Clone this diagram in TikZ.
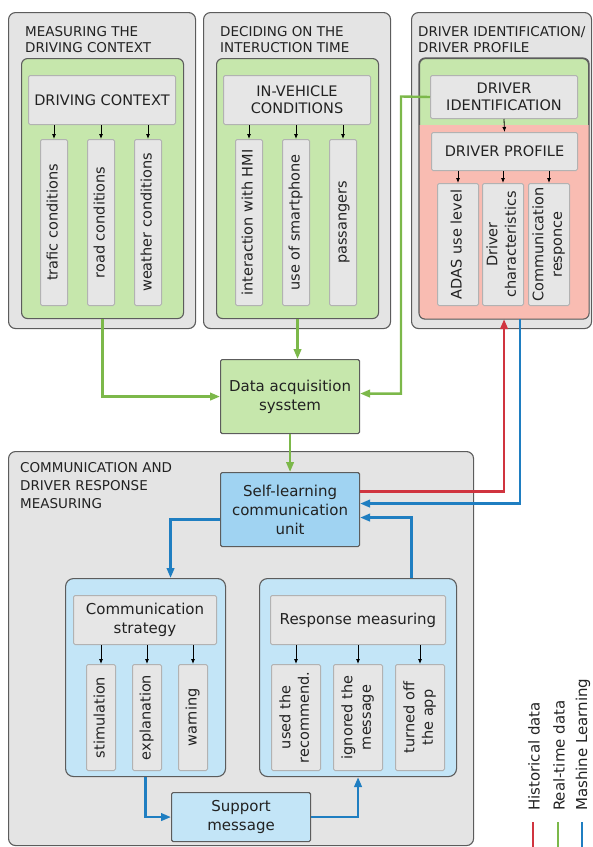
\documentclass[tikz,border=0pt]{standalone}
\usepackage{fontspec}
\setmainfont{DejaVu Sans}
\usepackage{graphicx}
\usetikzlibrary{arrows.meta}

\definecolor{panelgray}{HTML}{E4E4E4}
\definecolor{panelline}{HTML}{5C5C5C}
\definecolor{cellgray}{HTML}{E6E6E6}
\definecolor{cellline}{HTML}{B2B2B2}
\definecolor{zonegreen}{HTML}{C6E7AC}
\definecolor{zonepink}{HTML}{F9BCB2}
\definecolor{zoneblue}{HTML}{C3E5F7}
\definecolor{unitblue}{HTML}{A0D3F2}
\definecolor{rtgreen}{HTML}{7CB84A}
\definecolor{histred}{HTML}{D0343F}
\definecolor{mlblue}{HTML}{1F7EC1}
\definecolor{inkgray}{HTML}{222222}

\newcommand{\bodyfont}{\fontsize{15}{19}\selectfont}
\newcommand{\headfont}{\fontsize{14.5}{17}\selectfont}
\newcommand{\vfont}{\fontsize{14.5}{18.5}\selectfont}
\newcommand{\titlefont}{\fontsize{13.5}{16}\selectfont}
\newcommand{\vlabel}[1]{\rotatebox{90}{\vfont\begin{tabular}{@{}c@{}}#1\end{tabular}}}

\tikzset{
every picture/.style={x=1pt, y=-1pt}
}
\tikzset{
  every node/.style={text=inkgray, inner sep=0pt, anchor=north west},
  panel/.style={draw=panelline, fill=panelgray, line width=1.1pt, rounded corners=7pt},
  zone/.style={draw=panelline, line width=1.1pt, rounded corners=6pt},
  cell/.style={draw=cellline, fill=cellgray, line width=1pt, rounded corners=1.5pt, align=center},
  unit/.style={draw=panelline, line width=1.1pt, rounded corners=1.5pt, align=center, font=\bodyfont},
  title/.style={align=left, font=\titlefont},
  cellarrow/.style={-{Latex[length=5pt,width=4pt]}, line width=0.8pt, black},
  flow/.style={line width=2.4pt, -{Triangle[length=10pt,width=7.5pt]}},
  rtflow/.style={flow, rtgreen},
  histflow/.style={flow, histred},
  mlflow/.style={flow, mlblue}
}

\begin{document}
\begin{tikzpicture}
  \useasboundingbox (0,0) rectangle (593,847);

  % gray panels
  \node[panel, minimum width=187, minimum height=316] (ctxpanel) at (8,12) {};
  \node[panel, minimum width=187, minimum height=316] (timepanel) at (203,12) {};
  \node[panel, minimum width=180, minimum height=316] (drvpanel) at (411,12) {};
  \node[panel, minimum width=465, minimum height=394] (commpanel) at (8,451) {};

  \node[title] (ctxtitle) at (25,26) {MEASURING THE\\DRIVING CONTEXT};
  \node[title] (timetitle) at (220,26) {DECIDING ON THE\\INTERUCTION TIME};
  \node[title] (drvtitle) at (418,26) {DRIVER IDENTIFICATION/\\DRIVER PROFILE};
  \node[title, font=\fontsize{13.5}{18}\selectfont] (commtitle) at (20,462)
    {COMMUNICATION AND\\DRIVER RESPONSE\\MEASURING};

  % coloured zones
  \node[zone, fill=zonegreen, minimum width=162, minimum height=260] (ctxzone) at (21,58) {};
  \node[zone, fill=zonegreen, minimum width=162, minimum height=260] (timezone) at (216,58) {};
  \node[zone, fill=zonegreen, minimum width=169, minimum height=260] (idzone) at (419,58) {};
  \begin{scope}
    \clip[rounded corners=6pt] (idzone.north west) rectangle (idzone.south east);
    \fill[zonepink] (419,125) rectangle (idzone.south east);
  \end{scope}
  \draw[zone] (idzone.north west) rectangle (idzone.south east);
  \node[zone, fill=zoneblue, rounded corners=8pt, minimum width=160, minimum height=198] (stratzone) at (65,578) {};
  \node[zone, fill=zoneblue, rounded corners=8pt, minimum width=197, minimum height=198] (respzone) at (259,578) {};

  % header cells
  \node[cell, font=\headfont, minimum width=147, minimum height=49] (ctxhead) at (28,75) {DRIVING CONTEXT};
  \node[cell, font=\headfont, minimum width=147, minimum height=49] (timehead) at (223,75) {IN-VEHICLE\\CONDITIONS};
  \node[cell, font=\headfont, minimum width=147, minimum height=43] (idhead) at (430,75) {DRIVER\\IDENTIFICATION};
  \node[cell, font=\headfont, minimum width=146, minimum height=38] (profhead) at (431,132) {DRIVER PROFILE};
  \node[cell, font=\bodyfont, minimum width=143, minimum height=49] (strathead) at (73,595) {Communication\\strategy};
  \node[cell, font=\bodyfont, minimum width=175, minimum height=49] (resphead) at (270,595) {Response measuring};

  % vertical cells
  \foreach \nm/\xx/\txt in {trafic/40/{trafic conditions}, road/87/{road conditions}, weather/134/{weather conditions},
      hmi/235/{interaction with HMI}, phone/282/{use of smartphone}, pass/329/{passangers}}
    \node[cell, minimum width=27, minimum height=166] (\nm) at (\xx,139) {\vlabel{\txt}};
  \foreach \nm/\xx/\txt in {adas/437/{ADAS use level}, chars/482/{Driver\\characteristics}, resp/528/{Communication\\responce}}
    \node[cell, minimum width=41, minimum height=122] (\nm) at (\xx,183) {\vlabel{\txt}};
  \foreach \nm/\xx/\txt in {stim/86/{stimulation}, expl/132/{explanation}, warn/178/{warning}}
    \node[cell, minimum width=29, minimum height=106] (\nm) at (\xx,664) {\vlabel{\txt}};
  \foreach \nm/\xx/\txt in {used/271/{used the\\recommend.}, ignored/333/{ignored the\\message}, off/395/{turned off\\the app}}
    \node[cell, minimum width=49, minimum height=106] (\nm) at (\xx,664) {\vlabel{\txt}};

  \foreach \hd/\nm in {ctxhead/trafic, ctxhead/road, ctxhead/weather, timehead/hmi, timehead/phone, timehead/pass,
      profhead/adas, profhead/chars, profhead/resp, strathead/stim, strathead/expl, strathead/warn,
      resphead/used, resphead/ignored, resphead/off}
    \draw[cellarrow] (\hd.south -| \nm.north) -- (\nm.north);
  \draw[cellarrow] (idhead.south) -- (profhead.north);

  % central units
  \node[unit, fill=zonegreen, minimum width=139, minimum height=74] (daq) at (220,359) {Data acquisition\\sysstem};
  \node[unit, fill=unitblue, minimum width=139, minimum height=74] (unit) at (220,472) {Self-learning\\communication\\unit};
  \node[unit, fill=zoneblue, minimum width=139, minimum height=49] (support) at (171,792) {Support\\message};

  % real-time data
  \draw[rtflow] (ctxzone.south) |- (daq.west);
  \draw[rtflow] (timezone.south) -- (timezone.south |- daq.north);
  \draw[rtflow] (idhead.west) -- (401,96.5) |- ([yshift=3pt]daq.east);
  \draw[rtflow] (daq.south) -- (unit.north);

  % historical data and machine learning
  \draw[histflow] ([yshift=18pt]unit.east) -| (idzone.south);
  \draw[mlflow] ([xshift=16pt]idzone.south) |- ([yshift=6pt]unit.east);
  \draw[mlflow] ([yshift=-10pt]unit.west) -| ([xshift=25pt]stratzone.north);
  \draw[mlflow] ([xshift=53.5pt]respzone.north) |- ([yshift=-8pt]unit.east);
  \draw[mlflow] (stratzone.south) |- (support.west);
  \draw[mlflow] (support.east) -| (respzone.south);

  % legend
  \node[font=\bodyfont, rotate=90, anchor=west] (histlbl) at (534,811) {Historical data};
  \node[font=\bodyfont, rotate=90, anchor=west] (rtlbl) at (559,811) {Real-time data};
  \node[font=\bodyfont, rotate=90, anchor=west] (mllbl) at (583,811) {Mashine Learning};
  \draw[histred, line width=2.4pt] (533,822) -- (533,847);
  \draw[rtgreen, line width=2.4pt] (558,822) -- (558,847);
  \draw[mlblue, line width=2.4pt] (582,822) -- (582,847);
\end{tikzpicture}
\end{document}
